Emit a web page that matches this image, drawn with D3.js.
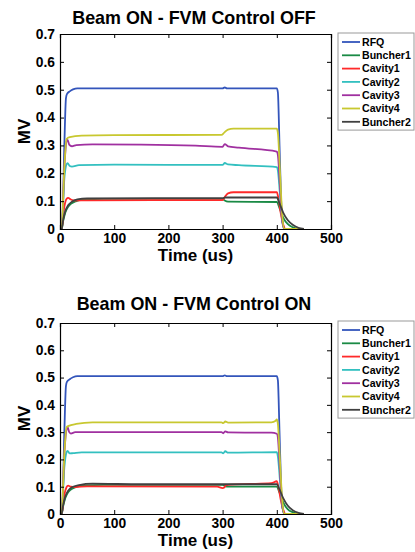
<!DOCTYPE html>
<html><head><meta charset="utf-8">
<script src="https://cdn.jsdelivr.net/npm/d3@7"></script>
<style>
html,body{margin:0;padding:0;background:#fff;}
svg{display:block;font-family:"Liberation Sans",Arial,sans-serif;}
</style></head><body>
<svg id="chart" width="415" height="552"></svg>
<script>
const seriesNames = ["RFQ","Buncher1","Cavity1","Cavity2","Cavity3","Cavity4","Buncher2"];
const seriesColors = ["#3355bb","#1a8a45","#ff2a2a","#33c0c0","#a030a0","#c8c830","#404040"];
const xTicks = [0,100,200,300,400,500];
const yTicks = [0,0.1,0.2,0.3,0.4,0.5,0.6,0.7];
const yTickLabels = ["0","0.1","0.2","0.3","0.4","0.5","0.6","0.7"];
const titles = ["Beam ON - FVM Control OFF","Beam ON - FVM Control ON"];

// Panel 1: FVM Control OFF  ([time us, MV])
const rfqOff = [[0,0],[4,0],[8,0.3],[11,0.47],[13,0.485],[18,0.494],[24,0.501],[32,0.505],[300,0.505],[304,0.508],[308,0.505],[400,0.505],[402,0.49],[405,0.3],[408,0.1],[411,0.02],[415,0],[450,0]];
const buncher1Off = [[0,0],[3,0],[6,0.03],[10,0.06],[15,0.08],[20,0.09],[30,0.1],[45,0.106],[80,0.108],[300,0.108],[304,0.102],[310,0.098],[400,0.097],[405,0.075],[412,0.04],[420,0.018],[430,0.006],[440,0],[450,0]];
const cavity1Off = [[0,0],[3,0],[8,0.08],[12,0.108],[15,0.112],[20,0.106],[28,0.102],[50,0.103],[300,0.104],[304,0.115],[310,0.128],[320,0.132],[400,0.132],[403,0.11],[407,0.06],[412,0.015],[416,0],[450,0]];
const cavity2Off = [[0,0],[3,0],[8,0.18],[12,0.232],[14,0.236],[18,0.226],[22,0.224],[35,0.229],[100,0.231],[300,0.230],[304,0.237],[310,0.232],[330,0.229],[400,0.222],[402,0.21],[406,0.12],[410,0.03],[414,0],[450,0]];
const cavity3Off = [[0,0],[3,0],[8,0.22],[12,0.315],[14,0.32],[17,0.303],[22,0.297],[30,0.301],[60,0.304],[150,0.303],[250,0.299],[300,0.295],[304,0.305],[310,0.297],[330,0.292],[400,0.278],[402,0.265],[406,0.15],[410,0.03],[414,0],[450,0]];
const cavity4Off = [[0,0],[3,0],[8,0.22],[12,0.323],[18,0.33],[40,0.335],[100,0.337],[298,0.338],[303,0.346],[310,0.357],[320,0.36],[400,0.36],[402,0.345],[406,0.2],[410,0.05],[414,0],[450,0]];
const buncher2Off = [[0,0],[3,0],[6,0.035],[10,0.065],[15,0.085],[22,0.098],[32,0.106],[50,0.11],[300,0.111],[305,0.113],[400,0.113],[405,0.092],[412,0.058],[420,0.032],[430,0.014],[440,0.004],[450,0]];

// Panel 2: FVM Control ON
const rfqOn = [[0,0],[4,0],[8,0.3],[11,0.47],[13,0.485],[18,0.494],[24,0.501],[32,0.505],[300,0.505],[304,0.508],[308,0.505],[400,0.505],[402,0.49],[405,0.3],[408,0.1],[411,0.02],[415,0],[450,0]];
const buncher1On = [[0,0],[3,0],[6,0.03],[10,0.06],[15,0.08],[20,0.09],[30,0.099],[45,0.105],[80,0.107],[300,0.107],[305,0.102],[310,0.1],[400,0.1],[405,0.078],[412,0.042],[420,0.018],[430,0.006],[440,0],[450,0]];
const cavity1On = [[0,0],[3,0],[8,0.07],[12,0.098],[15,0.104],[20,0.1],[28,0.099],[50,0.101],[290,0.1],[300,0.095],[303,0.097],[306,0.105],[315,0.108],[350,0.11],[390,0.113],[400,0.12],[403,0.1],[407,0.055],[412,0.015],[416,0],[450,0]];
const cavity2On = [[0,0],[3,0],[8,0.17],[12,0.226],[14,0.231],[18,0.222],[24,0.223],[40,0.226],[298,0.226],[301,0.222],[305,0.23],[310,0.225],[400,0.227],[402,0.21],[406,0.12],[410,0.03],[414,0],[450,0]];
const cavity3On = [[0,0],[3,0],[8,0.22],[12,0.31],[14,0.318],[17,0.3],[20,0.295],[28,0.3],[100,0.3],[298,0.3],[301,0.296],[305,0.303],[310,0.299],[390,0.298],[400,0.294],[402,0.28],[406,0.15],[410,0.03],[414,0],[450,0]];
const cavity4On = [[0,0],[3,0],[8,0.22],[12,0.318],[16,0.323],[30,0.33],[60,0.336],[298,0.336],[301,0.333],[305,0.339],[310,0.335],[390,0.336],[398,0.342],[400,0.347],[402,0.33],[406,0.19],[410,0.05],[414,0],[450,0]];
const buncher2On = [[0,0],[3,0],[6,0.035],[10,0.065],[15,0.085],[22,0.098],[35,0.106],[60,0.111],[150,0.109],[300,0.109],[305,0.109],[400,0.109],[405,0.09],[412,0.057],[420,0.031],[430,0.013],[440,0.004],[450,0]];

const panelSeries = [
  [rfqOff,buncher1Off,cavity1Off,cavity2Off,cavity3Off,cavity4Off,buncher2Off],
  [rfqOn,buncher1On,cavity1On,cavity2On,cavity3On,cavity4On,buncher2On]
];

const svg = d3.select("#chart");
const panels = [
  {left:60,right:331,top:34,bottom:229,titleY:23.5,legendTop:33},
  {left:60,right:331,top:323,bottom:514,titleY:310,legendTop:321}
];

panels.forEach((p,pi)=>{
  const g = svg.append("g");
  const x = d3.scaleLinear().domain([0,500]).range([p.left,p.right]);
  const y = d3.scaleLinear().domain([0,0.7]).range([p.bottom,p.top]);
  const cx = (p.left+p.right)/2;

  g.append("text").attr("x",cx-1.5).attr("y",p.titleY).attr("text-anchor","middle")
    .attr("font-size","17.9px").attr("font-weight","bold").text(titles[pi]);

  const line = d3.line().x(d=>x(d[0])).y(d=>y(d[1])).curve(d3.curveMonotoneX);
  panelSeries[pi].forEach((s,i)=>{
    g.append("path").datum(s).attr("d",line).attr("fill","none")
      .attr("stroke",seriesColors[i]).attr("stroke-width",1.8).attr("stroke-linejoin","round");
  });

  const axB = d3.axisBottom(x).tickValues(xTicks).tickSize(-4).tickPadding(4).tickFormat(d3.format("d"));
  const axT = d3.axisTop(x).tickValues(xTicks).tickSize(-4).tickFormat("");
  const axL = d3.axisLeft(y).tickValues(yTicks).tickSize(-4).tickPadding(5).tickFormat((d,i)=>yTickLabels[i]);
  const axR = d3.axisRight(y).tickValues(yTicks).tickSize(-4).tickFormat("");
  [[axB,`translate(0,${p.bottom})`],[axT,`translate(0,${p.top})`],[axL,`translate(${p.left},0)`],[axR,`translate(${p.right},0)`]].forEach(([a,t])=>{
    const ag = g.append("g").attr("transform",t).call(a);
    ag.select(".domain").attr("stroke","#000").attr("stroke-width",1.2);
    ag.selectAll(".tick line").attr("stroke","#000");
    ag.selectAll("text").attr("font-size","13.8px").attr("font-weight","bold").attr("fill","#000")
      .attr("font-family","'Liberation Sans',Arial,sans-serif");
  });

  g.append("text").attr("x",cx).attr("y",p.bottom+31.5).attr("text-anchor","middle")
    .attr("font-size","17px").attr("font-weight","bold").text("Time (us)");
  g.append("text").attr("transform",`translate(30,${(p.top+p.bottom)/2}) rotate(-90)`)
    .attr("text-anchor","middle").attr("font-size","17px").attr("font-weight","bold").text("MV");

  const lg = g.append("g");
  const lx = 338, lw = 76, rowH = 13.3;
  lg.append("rect").attr("x",lx).attr("y",p.legendTop).attr("width",lw).attr("height",rowH*7+4)
    .attr("fill","#fff").attr("stroke","#999").attr("stroke-width",1);
  seriesNames.forEach((n,i)=>{
    const yy = p.legendTop + 9 + i*rowH;
    lg.append("line").attr("x1",lx+4).attr("x2",lx+22).attr("y1",yy).attr("y2",yy)
      .attr("stroke",seriesColors[i]).attr("stroke-width",1.8);
    lg.append("text").attr("x",lx+24).attr("y",yy+3.8).attr("font-size","10.6px")
      .attr("font-weight","bold").text(n);
  });
});
</script>
</body></html>
